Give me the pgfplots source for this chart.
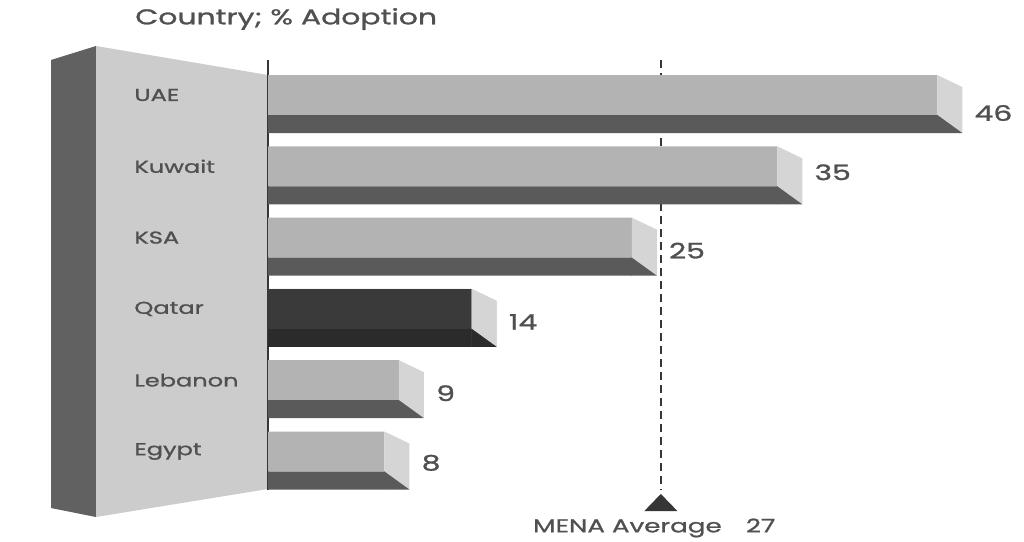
\documentclass[border=0pt]{standalone}
\usepackage{pgfplots}
\pgfplotsset{compat=1.18}
\usepackage{pgfplotstable}
\usepackage{fontspec}
\setmainfont{Poppins}[FakeStretch=1.4, FakeBold=1.2]
\definecolor{frontc}{HTML}{B3B3B3}
\definecolor{bandc}{HTML}{5A5A5A}
\definecolor{sidec}{HTML}{D5D5D5}
\definecolor{qfront}{HTML}{3A3A3A}
\definecolor{qband}{HTML}{2B2B2B}
\definecolor{walld}{HTML}{616161}
\definecolor{walll}{HTML}{CCCCCC}
\definecolor{txt}{HTML}{505050}
\definecolor{avgc}{HTML}{363636}

% i: row (0 = top), v: % adoption, dy: label offset in pt
\pgfplotstableread{
i v dy
0 46 -13.5
1 35 -4.5
2 25 -9.75
3 14 -9.75
4 9 -9.75
5 8 -8.5
}\adoption
\pgfplotstableread{
i v
3 14
}\qatar

\pgfdeclareplotmark{ext}{%
  \pgfpathmoveto{\pgfqpoint{0pt}{15pt}}%
  \pgfpathlineto{\pgfqpoint{18.75pt}{6pt}}%
  \pgfpathlineto{\pgfqpoint{18.75pt}{-28.5pt}}%
  \pgfpathlineto{\pgfqpoint{0pt}{-15pt}}%
  \pgfpathclose
  \pgfsetfillcolor{sidec}\pgfusepath{fill}%
  \pgfpathmoveto{\pgfqpoint{-0.2pt}{-14.8pt}}%
  \pgfpathlineto{\pgfqpoint{18.75pt}{-28.5pt}}%
  \pgfpathlineto{\pgfqpoint{-0.2pt}{-28.5pt}}%
  \pgfpathclose
  \pgfsetfillcolor{bandc}\pgfusepath{fill}%
}
\pgfdeclareplotmark{extq}{%
  \pgfpathmoveto{\pgfqpoint{0pt}{15pt}}%
  \pgfpathlineto{\pgfqpoint{18.75pt}{6pt}}%
  \pgfpathlineto{\pgfqpoint{18.75pt}{-28.5pt}}%
  \pgfpathlineto{\pgfqpoint{0pt}{-15pt}}%
  \pgfpathclose
  \pgfsetfillcolor{sidec}\pgfusepath{fill}%
  \pgfpathmoveto{\pgfqpoint{-0.2pt}{-14.8pt}}%
  \pgfpathlineto{\pgfqpoint{18.75pt}{-28.5pt}}%
  \pgfpathlineto{\pgfqpoint{-0.2pt}{-28.5pt}}%
  \pgfpathclose
  \pgfsetfillcolor{qband}\pgfusepath{fill}%
}
\pgfdeclareplotmark{avgtri}{%
  \pgfpathmoveto{\pgfqpoint{-12.4pt}{-6.4pt}}%
  \pgfpathlineto{\pgfqpoint{12.4pt}{-6.4pt}}%
  \pgfpathlineto{\pgfqpoint{0pt}{6.4pt}}%
  \pgfpathclose
  \pgfusepath{fill}%
}

\begin{document}
\begin{tikzpicture}
\begin{scope}[x=0.75pt,y=-0.75pt]
  \useasboundingbox (0,0) rectangle (1024,542);
  \fill[walld] (51,60) -- (96,46) -- (96,517) -- (51,508) -- cycle;
  \fill[walll] (96,46) -- (268,75) -- (268,489) -- (96,517) -- cycle;
  \node[anchor=west, text=txt, inner sep=0pt, font=\fontsize{16}{18}\selectfont] at (135,19) {Country; \% Adoption};
\end{scope}
\begin{axis}[
  at={(201pt,-367.5pt)}, anchor=south west,
  scale only axis, width=545.625pt, height=322.5pt,
  xmin=0, xmax=50, ymin=-0.4909, ymax=5.54, y dir=reverse,
  axis x line=none, axis y line=left,
  y axis line style={-, draw=avgc, line width=1.5pt},
  xtick=\empty, ytick={0,1,2,3,4,5},
  yticklabels={UAE,Kuwait,KSA,Qatar,Lebanon,Egypt},
  ytick style={draw=none},
  yticklabel style={anchor=west, xshift=-98.25pt, inner sep=0pt, text=txt, font=\fontsize{12.9}{14}\selectfont},
  clip=false,
  /pgf/number format/assume math mode=true,
]
\addplot[draw=avgc, line width=1.5pt, dash pattern=on 6pt off 3.75pt] coordinates {(27,-0.4909) (27,5.54)};
\addplot[only marks, mark=avgtri, mark options={fill=avgc, draw=none}] coordinates {(27,5.715)};
\node[text=txt, font=\fontsize{14}{16}\selectfont, xshift=-5pt] at (axis cs:27,6.073) {MENA Average\hspace{1.3em}27};

\addplot[xbar, bar width=30pt, bar shift=0pt, fill=frontc, draw=none] table[x=v, y=i] {\adoption};
\addplot[xbar, bar width=13.5pt, bar shift=0pt, fill=bandc, draw=none] table[x=v, y expr=\thisrow{i}+0.4067] {\adoption};
\addplot[only marks, mark=ext, point meta=x, nodes near coords,
  visualization depends on={\thisrow{dy} \as \labdy},
  every node near coord/.append style={anchor=west, inner sep=0pt, xshift=27.75pt, yshift=\labdy pt, text=txt, font=\fontsize{16}{18}\selectfont}] table[x=v, y=i] {\adoption};

\addplot[xbar, bar width=30pt, bar shift=0pt, fill=qfront, draw=none] table[x=v, y=i] {\qatar};
\addplot[xbar, bar width=13.5pt, bar shift=0pt, fill=qband, draw=none] table[x=v, y expr=\thisrow{i}+0.4067] {\qatar};
\addplot[only marks, mark=extq] table[x=v, y=i] {\qatar};
\end{axis}
\end{tikzpicture}
\end{document}
